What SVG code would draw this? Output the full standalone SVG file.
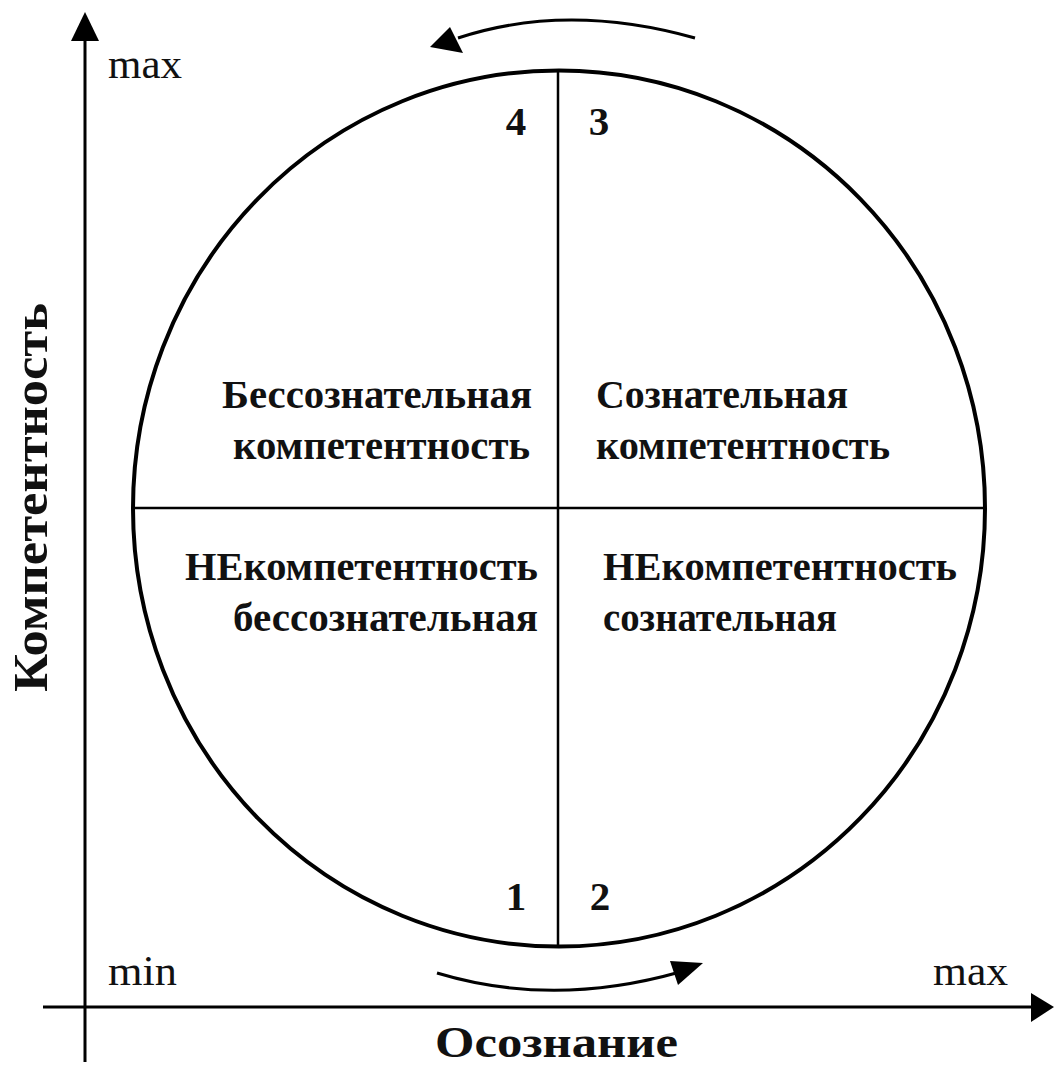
<svg xmlns="http://www.w3.org/2000/svg" width="1055" height="1065" viewBox="0 0 1055 1065">
<style>
.ln{stroke:#000;fill:none}
.t{font-family:"Liberation Serif","DejaVu Serif",serif;fill:#111}
.b{font-weight:bold}
</style>
<rect width="1055" height="1065" fill="#fff"/>
<g id="connectors">
<line class="ln" x1="85" y1="1062" x2="85" y2="40" stroke-width="3"/>
<path d="M71,41 L85,12 L99,41 Z" fill="#000"/>
<line class="ln" x1="43" y1="1007" x2="1032" y2="1007" stroke-width="3"/>
<path d="M1031,993 L1054,1007 L1031,1022 Z" fill="#000"/>
<path class="ln" d="M695,38 Q567,2 458,38" stroke-width="3"/>
<path d="M430,47 L450,27 L463,53 Z" fill="#000"/>
<path class="ln" d="M437,973 Q553,1008 680,972" stroke-width="3"/>
<path d="M703,963 L670,961 L678,985 Z" fill="#000"/>
</g>
<g id="circle">
<ellipse class="ln" cx="559" cy="508.5" rx="426" ry="438" stroke-width="4"/>
<line class="ln" x1="558" y1="71" x2="558" y2="946" stroke-width="2.5"/>
<line class="ln" x1="134" y1="508" x2="984" y2="508" stroke-width="2.5"/>
</g>
<g id="labels" class="t">
<text x="108" y="78" font-size="43" textLength="74" lengthAdjust="spacingAndGlyphs">max</text>
<text x="108" y="985" font-size="43" textLength="69" lengthAdjust="spacingAndGlyphs">min</text>
<text x="933" y="985" font-size="43" textLength="75" lengthAdjust="spacingAndGlyphs">max</text>
<text x="435" y="1057" font-size="45" class="b" textLength="243" lengthAdjust="spacingAndGlyphs">Осознание</text>
<text transform="translate(47,692) rotate(-90)" font-size="48" class="b" textLength="389" lengthAdjust="spacingAndGlyphs">Компетентность</text>
</g>
<g id="numbers" class="t b" font-size="41" text-anchor="middle">
<text x="516" y="135">4</text>
<text x="599" y="135">3</text>
<text x="516" y="910">1</text>
<text x="600" y="910">2</text>
</g>
<g id="q4" class="t b" font-size="39" lengthAdjust="spacingAndGlyphs">
<text x="222" y="408" textLength="310" lengthAdjust="spacingAndGlyphs">Бессознательная</text>
<text x="233" y="459" textLength="297" lengthAdjust="spacingAndGlyphs">компетентность</text>
</g>
<g id="q3" class="t b" font-size="39">
<text x="596" y="408" textLength="252" lengthAdjust="spacingAndGlyphs">Сознательная</text>
<text x="596" y="459" textLength="294" lengthAdjust="spacingAndGlyphs">компетентность</text>
</g>
<g id="q1" class="t b" font-size="39">
<text x="185" y="580" textLength="353" lengthAdjust="spacingAndGlyphs">НЕкомпетентность</text>
<text x="233" y="631" textLength="305" lengthAdjust="spacingAndGlyphs">бессознательная</text>
</g>
<g id="q2" class="t b" font-size="39">
<text x="603" y="580" textLength="354" lengthAdjust="spacingAndGlyphs">НЕкомпетентность</text>
<text x="603" y="631" textLength="234" lengthAdjust="spacingAndGlyphs">сознательная</text>
</g>
</svg>
